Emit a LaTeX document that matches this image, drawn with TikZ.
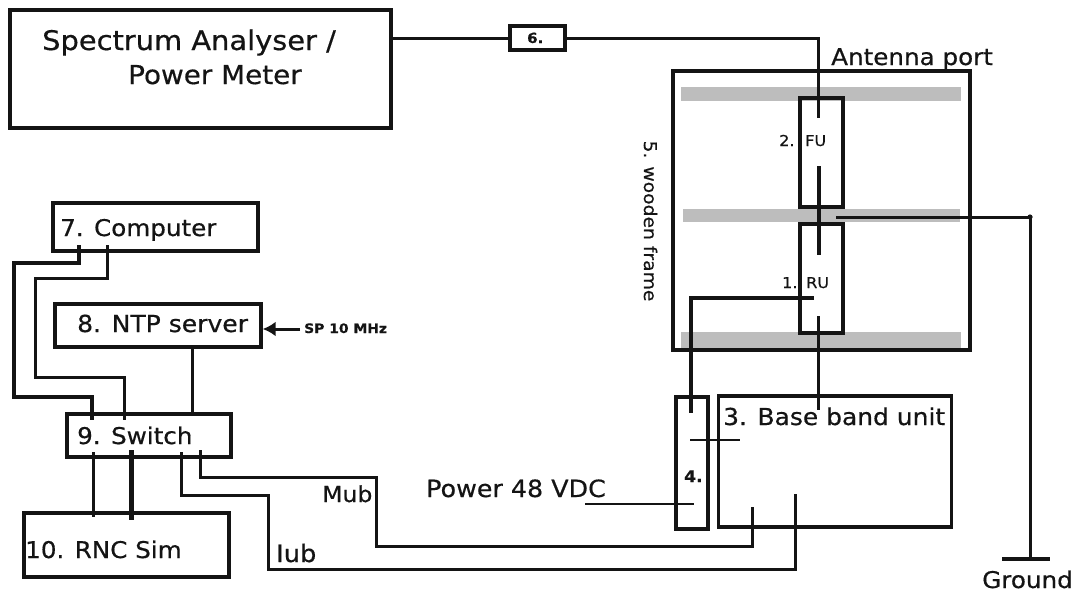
\documentclass[tikz,border=0pt]{standalone}
\usepackage{fontspec}
\setmainfont[FakeStretch=1.07,FakeBold=0.5]{DejaVu Sans}
\usetikzlibrary{arrows.meta}
\definecolor{ink}{HTML}{141414}
\definecolor{bar}{HTML}{BDBDBD}
\tikzset{
  boxn/.style={draw=ink,line width=3.4pt,inner sep=0pt,fill=white},
  barn/.style={fill=bar,draw=none,inner sep=0pt},
  wire/.style={draw=ink,line width=3pt,line join=miter},
  thin wire/.style={draw=ink,line width=2.4pt},
  thick wire/.style={draw=ink,line width=5pt},
  lbl/.style={anchor=base west,inner sep=0pt,text=ink,font=\fontsize{#1}{#1}\selectfont},
  lblb/.style={anchor=base west,inner sep=0pt,text=ink,font=\fontsize{#1}{#1}\selectfont\bfseries}
}
\begin{document}
\begin{tikzpicture}[x=1pt,y=-1pt]
\useasboundingbox (0,0) rectangle (1077,592);
% boxes
\node[boxn,minimum width=381pt,minimum height=118pt] (spec) at (200.5,69) {};
\node[boxn,minimum width=55pt,minimum height=24pt] (six) at (537.5,38) {};
\node[boxn,minimum width=297pt,minimum height=279pt] (frame) at (821.5,210.5) {};
\node[barn,minimum width=280pt,minimum height=14pt] (bar1) at (821,94) {};
\node[barn,minimum width=277pt,minimum height=13pt] (bar2) at (821.5,215.5) {};
\node[barn,minimum width=280pt,minimum height=16pt] (bar3) at (821,340) {};
\node[boxn,fill=none,minimum width=43pt,minimum height=109pt] (fu) at (821.5,152.5) {};
\node[boxn,fill=none,minimum width=43pt,minimum height=109pt] (ru) at (821.5,278.5) {};
\node[boxn,minimum width=233pt,minimum height=131pt] (bbu) at (835,461.5) {};
\node[boxn,minimum width=32pt,minimum height=132pt] (four) at (692,463) {};
\node[boxn,minimum width=205pt,minimum height=48pt] (comp) at (155.5,227) {};
\node[boxn,minimum width=206pt,minimum height=43pt] (ntp) at (158,325.5) {};
\node[boxn,minimum width=164pt,minimum height=43pt] (sw) at (149,435.5) {};
\node[boxn,minimum width=205pt,minimum height=64pt] (rnc) at (126.5,545) {};
% free connector ends and bends
\coordinate (a6) at (818,118);
\coordinate (fa) at (819,166);
\coordinate (fb) at (819,255);
\coordinate (gs) at (836,217);
\coordinate (gc) at (1030,217);
\coordinate (ge) at (1030,559);
\coordinate (gl) at (1002,559);
\coordinate (gr) at (1050,559);
\coordinate (ra) at (814,298);
\coordinate (rb) at (691,413);
\coordinate (ba) at (818,316);
\coordinate (bb) at (818,410);
\coordinate (ha) at (690,440);
\coordinate (hb) at (740,440);
\coordinate (pa) at (585,504);
\coordinate (pb) at (694,504);
\coordinate (ma) at (200,450);
\coordinate (mb) at (752,507);
\coordinate (ia) at (181,452);
\coordinate (ib) at (795,494);
\coordinate (c1) at (79,245);
\coordinate (c2) at (107,245);
\coordinate (s1) at (92,420);
\coordinate (s2) at (124,420);
\coordinate (n1) at (192,347);
\coordinate (n2) at (192,414);
\coordinate (u1) at (93,452);
\coordinate (u2) at (93,517);
\coordinate (v1) at (131,450);
\coordinate (v2) at (131,520);
\coordinate (spw) at (300,329);
% connectors
\draw[wire] (spec.east |- six.west) -- (six.west);
\draw[wire] (six.east) -| (a6);
\draw[wire,line width=3.6pt] (fa) -- (fb);
\draw[wire] (gs) -- (gc) -- (ge);
\draw[wire,line width=3.8pt] (gl) -- (gr);
\fill[ink] (gc) circle (2.6pt);
\draw[wire,line width=3.4pt] (ra) -| (rb);
\draw[wire] (ba) -- (bb);
\draw[thin wire] (ha) -- (hb);
\draw[thin wire] (pa) -- (pb);
\draw[wire] (ma) -- (200,477) -- (376,477) -- (376,546) -- (752,546) -- (mb);
\draw[wire] (ia) -- (181,495) -- (268,495) -- (268,569) -- (795,569) -- (ib);
\draw[wire,line width=3.4pt] (c1) -- (79,263) -- (14,263) -- (14,397) -- (92,397) -- (s1);
\draw[wire] (c2) -- (107,278) -- (35,278) -- (35,377) -- (124,377) -- (s2);
\draw[wire] (n1) -- (n2);
\draw[wire] (u1) -- (u2);
\draw[thick wire] (v1) -- (v2);
\draw[wire,-{Latex[length=13pt,width=15pt]}] (spw) -- (ntp.east |- spw);
% labels
\node[lblb=13] (sp) at (304,333) {SP 10 MHz};
\node[lbl=27] (t1) at (42,50) {Spectrum Analyser /};
\node[lbl=26] (t2) at (128,84) {Power Meter};
\node[lbl=23] (t3) at (831,65) {Antenna port};
\node[lbl=23] (t4) at (60,236) {7. Computer};
\node[lbl=23.4] (t5) at (77,332) {8. NTP server};
\node[lbl=23] (t6) at (77,444) {9. Switch};
\node[lbl=23] (t7) at (25,558) {10. RNC Sim};
\node[lbl=22] (t8) at (322,502) {Mub};
\node[lbl=24] (t9) at (276,562) {Iub};
\node[lbl=23.7] (t10) at (426,497) {Power 48 VDC};
\node[lbl=23.3] (t11) at (723,425) {3. Base band unit};
\node[lbl=23] (t12) at (982,588) {Ground};
\node[lbl=15] (t13) at (779,146) {2.};
\node[lbl=15] (t14) at (805,146) {FU};
\node[lbl=15] (t15) at (782,288) {1.};
\node[lbl=15] (t16) at (806,288) {RU};
\node[lblb=16] (t17) at (684,482) {4.};
\node[lblb=14] (t18) at (527,43) {6.};
\node[rotate=-90,anchor=base,inner sep=0pt,text=ink,font=\fontsize{17.5}{17.5}\selectfont] (t19) at (644,221) {5. wooden frame};
\end{tikzpicture}
\end{document}
